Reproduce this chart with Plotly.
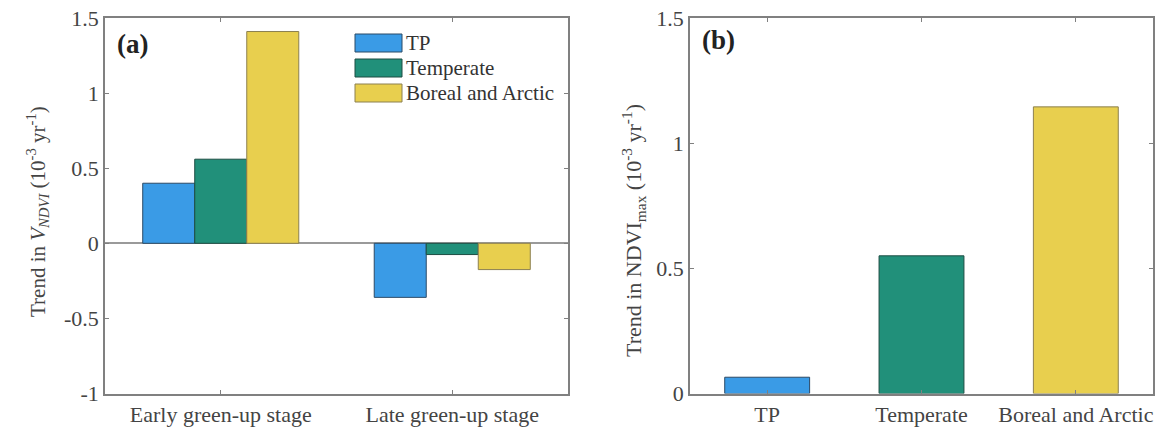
import plotly.graph_objects as go

# ---- data ----
stages = ["Early green-up stage", "Late green-up stage"]
regions = ["TP", "Temperate", "Boreal and Arctic"]
tp_vndvi = [0.40, -0.36]
temperate_vndvi = [0.56, -0.075]
boreal_vndvi = [1.41, -0.175]
ndvimax_trend = [0.065, 0.55, 1.145]

colors = ["#3a9be6", "#21907a", "#e8cf4e"]
edge = ["#2b4a66", "#1d4d43", "#8c8050"]

W, H = 1162, 436
def px(x):
    return x / W
def py(y):
    return 1 - y / H

fig = go.Figure()

series_a = [tp_vndvi, temperate_vndvi, boreal_vndvi]
for name, vals, c, e in zip(regions, series_a, colors, edge):
    fig.add_trace(go.Bar(x=stages, y=vals, name=name, marker=dict(color=c, line=dict(color=e, width=1)),
                         xaxis="x", yaxis="y", showlegend=False))

fig.add_trace(go.Bar(x=regions, y=ndvimax_trend, width=0.55,
                     marker=dict(color=colors, line=dict(color=edge, width=1)),
                     xaxis="x2", yaxis="y2", showlegend=False))

font_family = "Liberation Serif, Times New Roman, serif"
axcol = "#808080"
tickcol = "#444444"

common_axis = dict(showline=True, linecolor=axcol, linewidth=1.5, mirror="ticks", ticks="inside",
                   ticklen=4, tickcolor=axcol, showgrid=False, automargin=False,
                   ticklabeloverflow="allow",
                   tickfont=dict(family=font_family, size=22, color=tickcol))

fig.update_layout(
    width=W, height=H,
    margin=dict(l=0, r=0, t=0, b=0, autoexpand=False),
    paper_bgcolor="white", plot_bgcolor="white",
    barmode="group", bargap=0.326, bargroupgap=0,
    xaxis=dict(domain=[px(105), px(568)], anchor="y", type="category", **common_axis),
    yaxis=dict(domain=[py(393.5), py(18)], anchor="x", range=[-1, 1.5],
               tickvals=[-1, -0.5, 0, 0.5, 1, 1.5], ticktext=["-1", "-0.5", "0", "0.5", "1", "1.5"],
               zeroline=True, zerolinecolor="#9a9a9a", zerolinewidth=2, **common_axis),
    xaxis2=dict(domain=[px(690), px(1153)], anchor="y2", type="category", **common_axis),
    yaxis2=dict(domain=[py(393.5), py(18)], anchor="x2", range=[0, 1.5],
                tickvals=[0, 0.5, 1, 1.5], ticktext=["0", "0.5", "1", "1.5"],
                zeroline=False, **common_axis),
    font=dict(family=font_family, color=tickcol),
)

ann = []
# y-axis titles
ann.append(dict(text="Trend in <i>V</i><sub><i>NDVI</i></sub> (10<sup>-3</sup> yr<sup>-1</sup>)",
                x=px(37), y=py(212), xref="paper", yref="paper", textangle=-90, showarrow=False,
                xanchor="center", yanchor="middle", font=dict(family=font_family, size=21, color=tickcol)))
ann.append(dict(text="Trend in NDVI<sub>max</sub> (10<sup>-3</sup> yr<sup>-1</sup>)",
                x=px(633), y=py(231), xref="paper", yref="paper", textangle=-90, showarrow=False,
                xanchor="center", yanchor="middle", font=dict(family=font_family, size=22, color=tickcol)))
# panel labels
ann.append(dict(text="<b>(a)</b>", x=px(115), y=py(44), xref="paper", yref="paper", showarrow=False,
                xanchor="left", yanchor="middle", font=dict(family=font_family, size=27, color="#222")))
ann.append(dict(text="<b>(b)</b>", x=px(700), y=py(40), xref="paper", yref="paper", showarrow=False,
                xanchor="left", yanchor="middle", font=dict(family=font_family, size=27, color="#222")))

# custom legend
shapes = []
row_y = [43, 68, 93]
for name, c, e, yc in zip(regions, colors, edge, row_y):
    shapes.append(dict(type="rect", xref="paper", yref="paper", x0=px(355), x1=px(402),
                       y0=py(yc + 9), y1=py(yc - 9), fillcolor=c, line=dict(color=e, width=1)))
    ann.append(dict(text=name, x=px(404), y=py(yc), xref="paper", yref="paper", showarrow=False,
                    xanchor="left", yanchor="middle", font=dict(family=font_family, size=21, color="#333")))

fig.update_layout(annotations=ann, shapes=shapes)
fig.write_html("out.html", config={"displayModeBar": False},
               post_script="document.body.style.margin='0';document.body.style.overflow='hidden';")
